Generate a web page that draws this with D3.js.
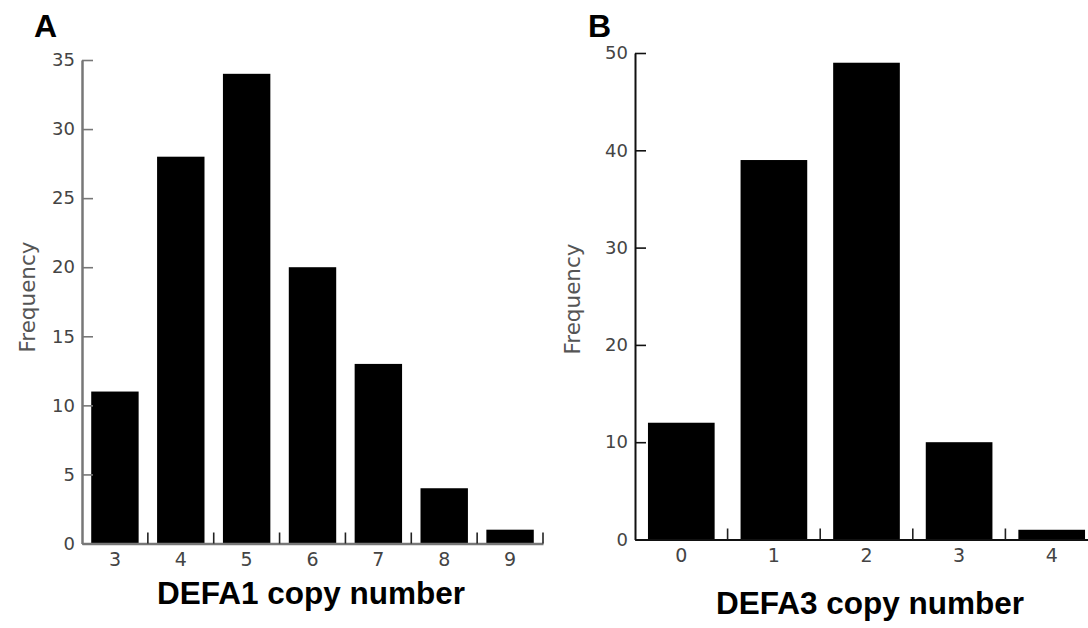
<!DOCTYPE html>
<html>
<head>
<meta charset="utf-8">
<script src="https://cdn.jsdelivr.net/npm/d3@7"></script>
<style>
  body { margin: 0; background: #fff; }
  .tick text { font-family: "DejaVu Sans", sans-serif; fill: #444; }
</style>
</head>
<body>
<div id="chart"></div>
<script>
// panel A - DEFA1
var defa1Copies = ["3", "4", "5", "6", "7", "8", "9"];
var defa1Freq = [11, 28, 34, 20, 13, 4, 1];
var defa1YTicks = [0, 5, 10, 15, 20, 25, 30, 35];

// panel B - DEFA3
var defa3Copies = ["0", "1", "2", "3", "4"];
var defa3Freq = [12, 39, 49, 10, 1];
var defa3YTicks = [0, 10, 20, 30, 40, 50];

var svg = d3.select("#chart").append("svg")
  .attr("width", 1088)
  .attr("height", 628)
  .style("display", "block");

function drawPanel(opt) {
  var g = svg.append("g");

  var x = d3.scaleBand()
    .domain(opt.cats)
    .range(opt.xRange)
    .paddingInner(0.28)
    .paddingOuter(0.14);

  var y = d3.scaleLinear()
    .domain([0, opt.yMax])
    .range(opt.yRange);

  // bars
  g.selectAll(".bar")
    .data(opt.cats.map(function (c, i) { return { cat: c, value: opt.values[i] }; }))
    .enter().append("rect")
    .attr("class", "bar")
    .attr("x", function (d) { return x(d.cat); })
    .attr("width", x.bandwidth())
    .attr("y", function (d) { return y(d.value); })
    .attr("height", function (d) { return y(0) - y(d.value); })
    .attr("fill", "#000");

  // y axis, ticks point into the plot
  var yAxis = d3.axisLeft(y)
    .tickValues(opt.yTicks)
    .tickSizeInner(-11)
    .tickSizeOuter(0)
    .tickPadding(7);
  var ya = g.append("g")
    .attr("transform", "translate(" + opt.xRange[0] + ",0)")
    .call(yAxis);
  ya.select(".domain").attr("stroke", opt.axisColor).attr("stroke-width", opt.axisWidth);
  ya.selectAll(".tick line").attr("stroke", opt.axisColor).attr("stroke-width", 1.6);
  ya.selectAll(".tick text").style("font-size", "18px");

  // x axis: labels at band centres, no tick marks
  var xAxis = d3.axisBottom(x).tickSize(0).tickPadding(9);
  var xa = g.append("g")
    .attr("transform", "translate(0," + y(0) + ")")
    .call(xAxis);
  xa.select(".domain").attr("stroke", opt.axisColor).attr("stroke-width", opt.axisWidth);
  xa.selectAll(".tick text").style("font-size", "19px");

  // small upward ticks between the bars
  xa.selectAll(".sep")
    .data(opt.cats)
    .enter().append("line")
    .attr("class", "sep")
    .attr("x1", function (d) { return x(d) + x.bandwidth() + (x.step() - x.bandwidth()) / 2; })
    .attr("x2", function (d) { return x(d) + x.bandwidth() + (x.step() - x.bandwidth()) / 2; })
    .attr("y1", 0)
    .attr("y2", -11)
    .attr("stroke", "#222")
    .attr("stroke-width", 1.6);

  // y title
  g.append("text")
    .attr("transform", "translate(" + opt.yTitleX + "," + opt.yTitleY + ") rotate(-90)")
    .attr("text-anchor", "middle")
    .style("font-family", "DejaVu Sans, sans-serif")
    .style("font-size", "21.5px")
    .attr("fill", "#555")
    .text("Frequency");

  // x title
  g.append("text")
    .attr("x", opt.xTitleX)
    .attr("y", opt.xTitleY)
    .attr("text-anchor", "middle")
    .style("font-family", "Liberation Sans, Arial, sans-serif")
    .style("font-weight", "bold")
    .style("font-size", "31.5px")
    .attr("fill", "#000")
    .text(opt.xTitle);

  // panel letter
  g.append("text")
    .attr("x", opt.letterX)
    .attr("y", 37)
    .style("font-family", "Liberation Sans, Arial, sans-serif")
    .style("font-weight", "bold")
    .style("font-size", "32px")
    .attr("fill", "#000")
    .text(opt.letter);
}

drawPanel({
  cats: defa1Copies, values: defa1Freq, yTicks: defa1YTicks, yMax: 35,
  xRange: [82, 543], yRange: [543.5, 60],
  axisColor: "#777", axisWidth: 2.5,
  yTitleX: 35, yTitleY: 297,
  xTitle: "DEFA1 copy number", xTitleX: 311, xTitleY: 604,
  letter: "A", letterX: 34
});

drawPanel({
  cats: defa3Copies, values: defa3Freq, yTicks: defa3YTicks, yMax: 50,
  xRange: [635, 1098], yRange: [539.5, 53],
  axisColor: "#111", axisWidth: 2,
  yTitleX: 580, yTitleY: 299,
  xTitle: "DEFA3 copy number", xTitleX: 870, xTitleY: 614,
  letter: "B", letterX: 588
});
</script>
</body>
</html>
